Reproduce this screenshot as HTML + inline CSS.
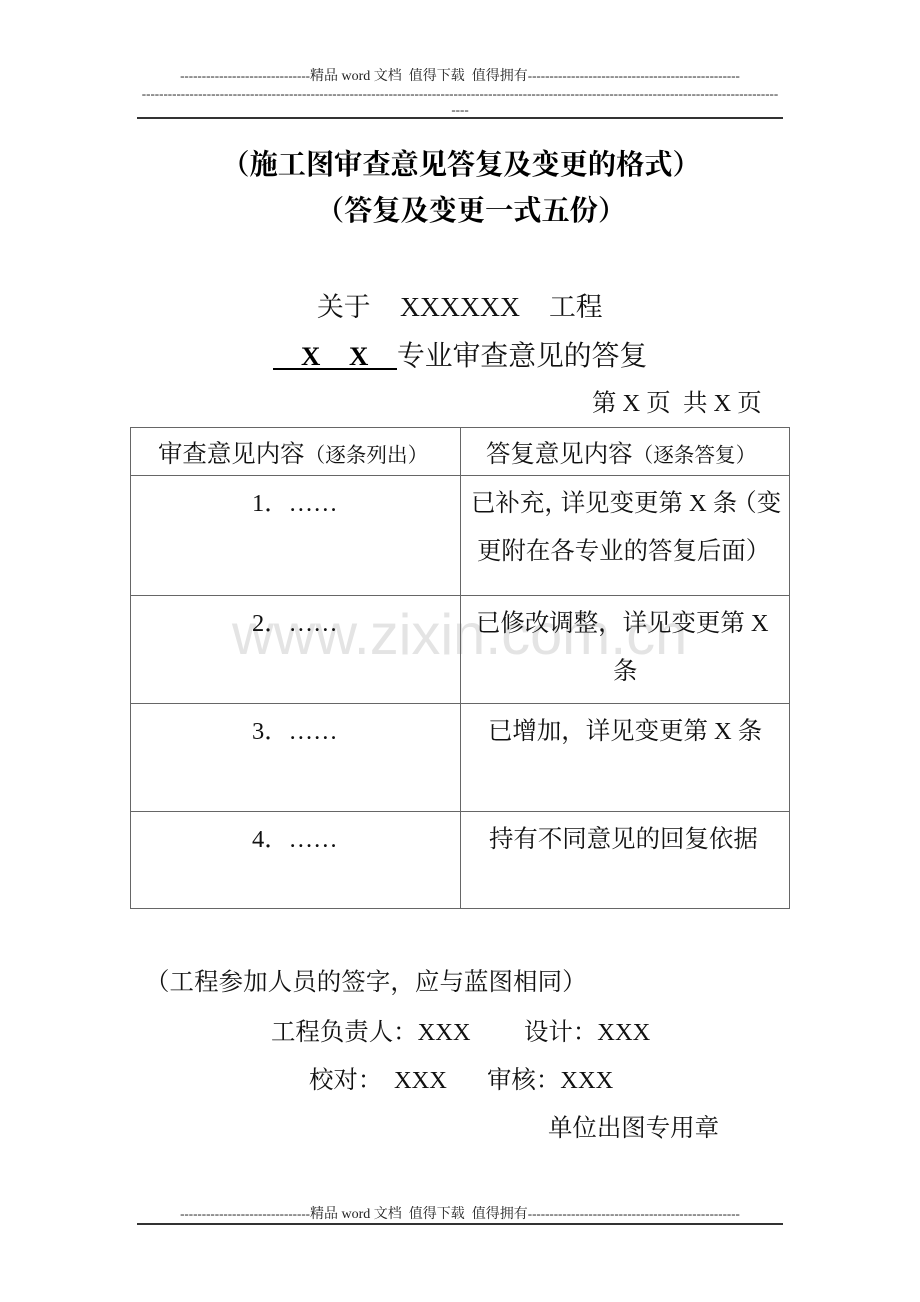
<!DOCTYPE html>
<html lang="zh"><head><meta charset="utf-8"><style>
html,body{margin:0;padding:0;background:#fff}
#p{position:relative;width:920px;height:1302px;overflow:hidden;background:#fff;color:#111;font-family:"Liberation Serif","Noto Serif CJK SC",serif}
.t{position:absolute;white-space:pre;height:40px;line-height:40px;font-size:24.45px}
.c{transform:translateX(-50%)}
.s{font-size:13px;height:20px;line-height:20px;color:#222}
.s span{font-size:14px}
.h{font-size:28.2px;font-weight:700;color:#000}
.b{font-size:26.8px}
.m{font-size:20.6px}
.r{position:absolute;background:#333}
.l{position:absolute;background:#666}
.n{margin-right:-8px}
.q{margin-left:-5px}
#w{position:absolute;left:232px;top:600px;font:57.7px/70px "Liberation Sans",sans-serif;color:#e4e4e4;white-space:pre}
</style></head><body><div id="p">
<div id="w">www.zixin.com.cn</div>

<div class="t s c" style="left:460px;top:66px">------------------------------<span>精品 word 文档  值得下载  值得拥有</span>-------------------------------------------------</div>
<div class="t s c" style="left:460px;top:84px">---------------------------------------------------------------------------------------------------------------------------------------------------</div>
<div class="t s c" style="left:460px;top:100px">----</div>
<div class="r" style="left:137px;top:117px;width:646px;height:2px"></div>

<div class="t h c" style="left:461px;top:146px">（施工图审查意见答复及变更的格式）</div>
<div class="t h c" style="left:471px;top:192px">（答复及变更一式五份）</div>

<div class="t b" style="left:317px;top:287px">关于</div>
<div class="t b" style="left:400px;top:287px;font-size:27.7px">XXXXXX</div>
<div class="t b" style="left:549px;top:287px">工程</div>
<div class="t b" style="left:301px;top:336px;font-weight:700;color:#000">X</div>
<div class="t b" style="left:349px;top:336px;font-weight:700;color:#000">X</div>
<div class="r" style="left:273px;top:368px;width:124px;height:2px;background:#000"></div>
<div class="t b" style="left:397px;top:337px;font-size:27.8px">专业审查意见的答复</div>
<div class="t" style="left:592px;top:384px">第 X 页  共 X 页</div>

<div class="l" style="left:130px;top:427px;width:660px;height:1px"></div>
<div class="l" style="left:130px;top:475px;width:660px;height:1px"></div>
<div class="l" style="left:130px;top:595px;width:660px;height:1px"></div>
<div class="l" style="left:130px;top:703px;width:660px;height:1px"></div>
<div class="l" style="left:130px;top:811px;width:660px;height:1px"></div>
<div class="l" style="left:130px;top:908px;width:660px;height:1px"></div>
<div class="l" style="left:130px;top:427px;width:1px;height:482px"></div>
<div class="l" style="left:460px;top:427px;width:1px;height:482px"></div>
<div class="l" style="left:789px;top:427px;width:1px;height:482px"></div>

<div class="t" style="left:158px;top:435px">审查意见内容<span class="m">（逐条列出）</span></div>
<div class="t" style="left:486px;top:435px">答复意见内容<span class="m">（逐条答复）</span></div>

<div class="t" style="left:252px;top:484px">1．……</div>
<div class="t" style="left:252px;top:604px">2．……</div>
<div class="t" style="left:252px;top:712px">3．……</div>
<div class="t" style="left:252px;top:820px">4．……</div>

<div class="t" style="left:471px;top:484px">已补充<span class="n">，</span>详见变更第 X 条<span class="q">（</span>变</div>
<div class="t" style="left:477px;top:532px">更附在各专业的答复后面）</div>
<div class="t" style="left:476px;top:604px">已修改调整，详见变更第 X</div>
<div class="t" style="left:613px;top:652px">条</div>
<div class="t" style="left:488px;top:712px">已增加，详见变更第 X 条</div>
<div class="t" style="left:489px;top:820px">持有不同意见的回复依据</div>

<div class="t" style="left:145px;top:963px;letter-spacing:.1px">（工程参加人员的签字，应与蓝图相同）</div>
<div class="t" style="left:271px;top:1013px">工程负责人：XXX</div>
<div class="t" style="left:524px;top:1013px">设计：XXX</div>
<div class="t" style="left:309px;top:1061px">校对：</div>
<div class="t" style="left:394px;top:1061px">XXX</div>
<div class="t" style="left:487px;top:1061px">审核：XXX</div>
<div class="t" style="left:548px;top:1109px">单位出图专用章</div>

<div class="t s c" style="left:460px;top:1204px">------------------------------<span>精品 word 文档  值得下载  值得拥有</span>-------------------------------------------------</div>
<div class="r" style="left:137px;top:1223px;width:646px;height:2px"></div>
</div></body></html>
